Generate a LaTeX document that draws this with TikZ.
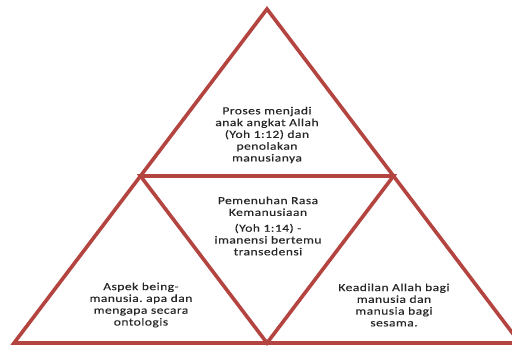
\documentclass[tikz,border=0pt]{standalone}
\usepackage{fontspec}
\setmainfont{Carlito}[LetterSpace=4, FakeStretch=1.26, FakeBold=0.12]
\usepackage{tikz}
\frenchspacing

\definecolor{edgered}{RGB}{180,68,64}
\tikzset{
    edge/.style={draw=edgered, line width=3.6pt, line join=miter},
    label/.style={align=center, font=\fontsize{10.8}{11.8}\selectfont, text=black!85},
}

\begin{document}
\begin{tikzpicture}[x=1pt, y=-1pt]
        \useasboundingbox (0,0) rectangle (512,349);
        \fill[white] (0,0) rectangle (512,349);

        \coordinate (apex) at (267,9);
        \coordinate (left) at (14,343);
        \coordinate (right) at (520,343);
        \coordinate (midleft) at (140.5,176);
        \coordinate (midright) at (393.5,176);
        \coordinate (bottom) at (267,343);

        \draw[edge] (apex) -- (left) -- (right) -- cycle;
        \draw[edge] (midleft) -- (midright) -- (bottom) -- cycle;

        \node[label] (topText) at (267,135) {Proses menjadi\\anak angkat Allah\\(Yoh 1:12) dan\\penolakan\\manusianya};
        \node[label] (midText) at (268,226) {Pemenuhan Rasa\\Kemanusiaan\\[4pt](Yoh 1:14) -\\imanensi bertemu\\transedensi};
        \node[label] (leftText) at (141,305) {Aspek being-\\manusia. apa dan\\mengapa secara\\ontologis};
        \node[label] (rightText) at (394,305) {Keadilan Allah bagi\\manusia dan\\manusia bagi\\sesama.};
\end{tikzpicture}
\end{document}
